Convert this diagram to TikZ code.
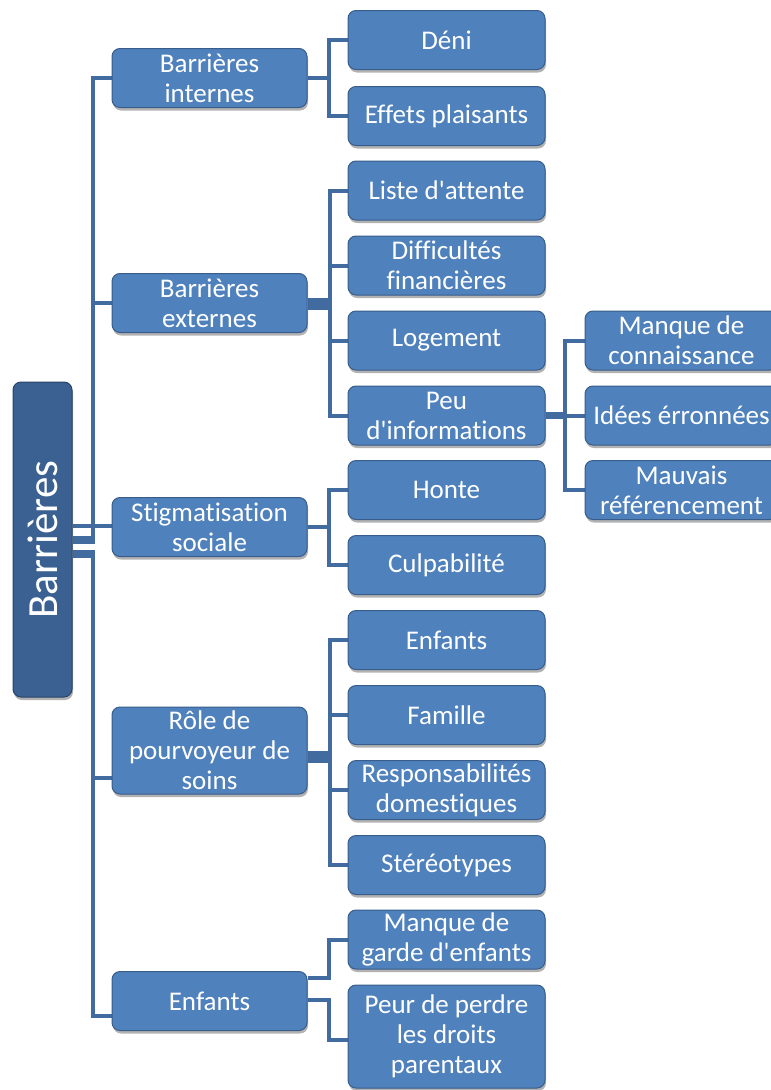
\documentclass[tikz,border=0pt]{standalone}
\usepackage{fontspec}
\setmainfont{Carlito}[Ligatures={TeXOff,CommonOff}]
\usetikzlibrary{shadows,backgrounds}
\definecolor{boxc}{RGB}{79,129,189}
\definecolor{bordc}{RGB}{56,93,138}
\definecolor{rootc}{RGB}{58,97,146}
\definecolor{linec}{RGB}{66,108,160}
\tikzset{
  box/.style={draw=bordc, line width=1pt, fill=boxc, rounded corners=8pt,
    text=white, font=\fontsize{27}{30}\selectfont, align=center, inner sep=0pt,
    drop shadow={shadow xshift=1pt, shadow yshift=-3pt, opacity=0.3, fill=black}},
  lone/.style={box, minimum width=195pt, minimum height=59pt},
  ltwo/.style={box, minimum width=197pt, minimum height=59pt},
  lthree/.style={box, minimum width=193pt, minimum height=59pt},
  rootbox/.style={box, fill=rootc, draw=rootc!70!black, minimum width=59pt, minimum height=315pt, font=\fontsize{43}{46}\selectfont},
  conn/.style={draw=linec, line width=4pt},
}
\begin{document}
\begin{tikzpicture}[x=1pt,y=-1pt]
\useasboundingbox (0,0) rectangle (771,1090);
\clip (0,0) rectangle (771,1090);
% root
\node[rootbox] (root) at (42.5,539.5) {\rotatebox{90}{Barrières}};
% level 1
\node[lone] (BI) at (209.5,78) {Barrières\\internes};
\node[lone] (BE) at (209.5,303) {Barrières\\externes};
\node[lone] (SS) at (209.5,527) {Stigmatisation\\sociale};
\node[lone, minimum height=87pt] (RP) at (209.5,750.5) {Rôle de\\pourvoyeur de\\soins};
\node[lone] (EN) at (209.5,1001) {Enfants};
% level 2
\node[ltwo] (Deni) at (446.5,40) {Déni};
\node[ltwo] (Eff) at (446.5,116) {Effets plaisants};
\node[ltwo] (Liste) at (446.5,190.5) {Liste d'attente};
\node[ltwo] (Diff) at (446.5,265.5) {Difficultés\\financières};
\node[ltwo] (Log) at (446.5,340.5) {Logement};
\node[ltwo] (Peu) at (446.5,415.5) {Peu\\d'informations};
\node[ltwo] (Honte) at (446.5,490) {Honte};
\node[ltwo] (Culp) at (446.5,565) {Culpabilité};
\node[ltwo] (Enf) at (446.5,640) {Enfants};
\node[ltwo] (Fam) at (446.5,715) {Famille};
\node[ltwo] (Resp) at (446.5,790) {Responsabilités\\domestiques};
\node[ltwo] (Ster) at (446.5,865) {Stéréotypes};
\node[ltwo] (Garde) at (446.5,939.5) {Manque de\\garde d'enfants};
\node[ltwo, minimum height=103pt] (Peur) at (446.5,1036.5) {Peur de perdre\\les droits\\parentaux};
% level 3
\node[lthree] (MC) at (681.5,340.5) {Manque de\\connaissance};
\node[lthree] (IE) at (681.5,415.5) {Idées érronnées};
\node[lthree] (MR) at (681.5,490) {Mauvais\\référencement};
\begin{scope}[on background layer]
% root to level 1 (trunk x = 93)
\draw[conn] ([shift={(0,-1.5)}]root.east) -- ++(20.5,0) |- (BI.west);
\draw[conn] ([shift={(0,2.5)}]root.east) -- ++(20.5,0) |- (BE.west);
\draw[conn] ([shift={(0,-13.5)}]root.east) -- ++(20.5,0) |- ([shift={(0,-1)}]SS.west);
\draw[conn] ([shift={(0,12.5)}]root.east) -- ++(20.5,0) |- ([shift={(0,27.5)}]RP.west);
\draw[conn] ([shift={(0,16)}]root.east) -- ++(20.5,0) |- ([shift={(0,15)}]EN.west);
% internes
\draw[conn] (BI.east) -- ++(21,0) |- (Deni.west);
\draw[conn] (BI.east) -- ++(21,0) |- (Eff.west);
% externes
\draw[conn] ([shift={(0,-3)}]BE.east) -- ++(22,0) |- (Liste.west);
\draw[conn] ([shift={(0,-0.3)}]BE.east) -- ++(22,0) |- (Diff.west);
\draw[conn] ([shift={(0,2.3)}]BE.east) -- ++(22,0) |- (Log.west);
\draw[conn] ([shift={(0,5)}]BE.east) -- ++(22,0) |- (Peu.west);
% stigmatisation
\draw[conn] (SS.east) -- ++(21,0) |- (Honte.west);
\draw[conn] (SS.east) -- ++(21,0) |- (Culp.west);
% role
\draw[conn] ([shift={(0,2)}]RP.east) -- ++(22,0) |- (Enf.west);
\draw[conn] ([shift={(0,4.7)}]RP.east) -- ++(22,0) |- (Fam.west);
\draw[conn] ([shift={(0,7.3)}]RP.east) -- ++(22,0) |- (Resp.west);
\draw[conn] ([shift={(0,10)}]RP.east) -- ++(22,0) |- (Ster.west);
% enfants
\draw[conn] ([shift={(0,-23)}]EN.east) -- ++(21,0) |- (Garde.west);
\draw[conn] ([shift={(0,-1)}]EN.east) -- ++(21,0) |- ([shift={(0,3.5)}]Peur.west);
% peu d'informations
\draw[conn] ([shift={(0,-1.5)}]Peu.east) -- ++(19,0) |- (MC.west);
\draw[conn] ([shift={(0,0)}]Peu.east) -- ++(19,0) |- (IE.west);
\draw[conn] ([shift={(0,1.5)}]Peu.east) -- ++(19,0) |- (MR.west);
\end{scope}
\end{tikzpicture}
\end{document}
